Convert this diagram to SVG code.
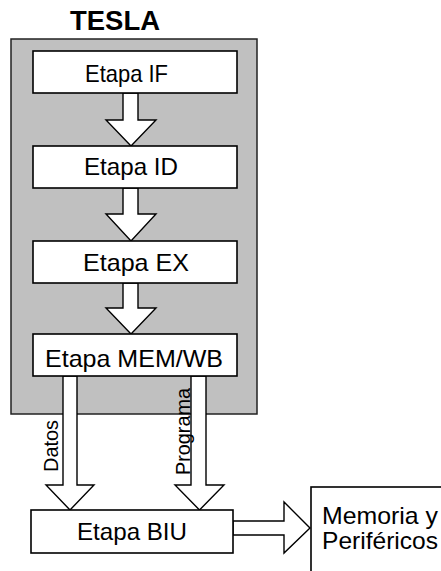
<svg xmlns="http://www.w3.org/2000/svg" width="441" height="571" viewBox="0 0 441 571">
<style>
.box{fill:#fff;stroke:#000;stroke-width:1.6}
.arr{fill:#fff;stroke:#000;stroke-width:1.4;stroke-linejoin:miter}
.t{font-family:"Liberation Sans",Arial,sans-serif;font-size:24px;fill:#000}
.s{font-family:"Liberation Sans",Arial,sans-serif;font-size:21px;fill:#000}
</style>
<rect width="441" height="571" fill="#fff"/>
<g id="tesla">
<rect x="11" y="39" width="246" height="375" fill="#c0c0c0" stroke="#222" stroke-width="1.5"/>
<text x="70" y="30" font-family="'Liberation Sans',Arial,sans-serif" font-weight="bold" font-size="27" textLength="90" lengthAdjust="spacingAndGlyphs">TESLA</text>
</g>
<g id="connectors">
<polygon class="arr" points="123,93 138,93 138,120 156,120 131,146 106,120 123,120"/>
<polygon class="arr" points="123,188 138,188 138,214 156,214 131,241 106,214 123,214"/>
<polygon class="arr" points="123,283 138,283 138,308 156,308 131,334 106,308 123,308"/>
<polygon class="arr" points="63,376 77,376 77,485 94,485 70,510 46,485 63,485"/>
<polygon class="arr" points="191,376 206,376 206,485 224,485 199.5,510 175,485 191,485"/>
<polygon class="arr" points="233,521 284,521 284,502 310,528 284,553 284,535 233,535"/>
<text class="s" transform="translate(58,472) rotate(-90)" textLength="52" lengthAdjust="spacingAndGlyphs">Datos</text>
<text class="s" transform="translate(190,475) rotate(-90)" textLength="87" lengthAdjust="spacingAndGlyphs">Programa</text>
</g>
<g id="if">
<rect class="box" x="33" y="51" width="204" height="42"/>
<text class="t" x="85" y="82" textLength="83" lengthAdjust="spacingAndGlyphs">Etapa IF</text>
</g>
<g id="id">
<rect class="box" x="33" y="146" width="204" height="42"/>
<text class="t" x="84" y="175" textLength="94" lengthAdjust="spacingAndGlyphs">Etapa ID</text>
</g>
<g id="ex">
<rect class="box" x="33" y="241" width="204" height="42"/>
<text class="t" x="83" y="271" textLength="106" lengthAdjust="spacingAndGlyphs">Etapa EX</text>
</g>
<g id="memwb">
<rect class="box" x="33" y="334" width="204" height="42"/>
<text class="t" x="45" y="367" textLength="178" lengthAdjust="spacingAndGlyphs">Etapa MEM/WB</text>
</g>
<g id="biu">
<rect class="box" x="31" y="510" width="202" height="43"/>
<text class="t" x="77" y="540" font-size="27" textLength="110" lengthAdjust="spacingAndGlyphs">Etapa BIU</text>
</g>
<g id="memoria">
<rect class="box" x="311" y="487" width="140" height="100"/>
<text class="t" x="322" y="524" font-size="25" textLength="116" lengthAdjust="spacingAndGlyphs">Memoria y</text>
<text class="t" x="322" y="549" font-size="25" textLength="116" lengthAdjust="spacingAndGlyphs">Periféricos</text>
</g>
</svg>
